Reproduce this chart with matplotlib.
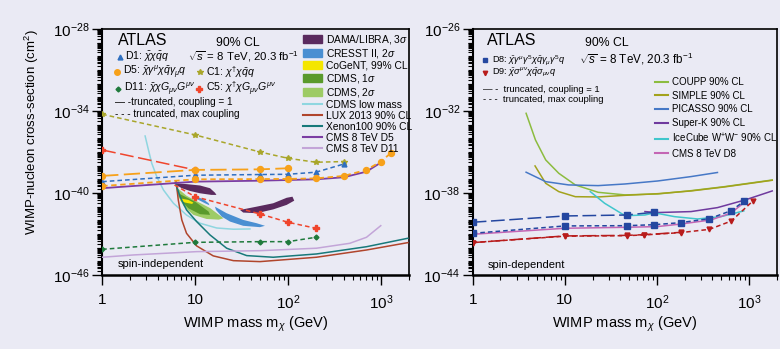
import numpy as np
import matplotlib
matplotlib.use("Agg")
import matplotlib.pyplot as plt
from matplotlib.lines import Line2D
from matplotlib.patches import Patch
from matplotlib.ticker import FixedLocator, LogLocator, NullFormatter

plt.rcParams['font.family'] = ['Liberation Sans', 'DejaVu Sans']
plt.rcParams['mathtext.fontset'] = 'custom'
plt.rcParams['mathtext.rm'] = 'Liberation Sans'
plt.rcParams['mathtext.it'] = 'Liberation Sans:italic'
plt.rcParams['mathtext.bf'] = 'Liberation Sans:bold'

BG = '#eaeaf4'

# ---------------- spin-independent (values are log10 of cm^2) ----------------
d1_m = [1, 10, 50, 100, 200, 400]
d1_s = [-39.17, -38.70, -38.65, -38.63, -38.48, -37.88]
c1_m = [1, 10, 50, 100, 200, 400]
c1_s = [-34.24, -35.75, -37.0, -37.46, -37.75, -37.7]
d5_m_cpl1 = [1, 10, 50, 100]
d5_s_cpl1 = [-38.75, -38.31, -38.27, -38.19]
d5_m = [1, 10, 50, 100, 200, 400, 700, 1000, 1300]
d5_s = [-39.49, -39.0, -38.98, -38.97, -38.93, -38.75, -38.31, -37.7, -37.05]
c5_m_cpl1 = [1, 10]
c5_s_cpl1 = [-36.85, -38.31]
c5_m = [6, 10, 50, 100, 200]
c5_s = [-39.41, -40.27, -41.53, -42.14, -42.58]
d11_m = [1, 10, 50, 100, 200]
d11_s = [-44.12, -43.61, -43.56, -43.56, -43.24]

cms_d5_m = [1, 10, 50, 200, 400, 700, 1000]
cms_d5_s = [-39.65, -39.17, -39.1, -39.0, -38.85, -38.44, -37.78]
cms_d11_m = [1, 2.2, 10.4, 50, 203, 464, 702, 1000]
cms_d11_s = [-44.7, -44.53, -44.29, -44.22, -44.04, -43.68, -43.24, -42.39]
xenon_m = [6.15, 6.9, 8.1, 10.4, 14.5, 21.9, 36, 69.5, 203, 702, 1960]
xenon_s = [-39.24, -40.27, -41.24, -42.09, -43.07, -44.04, -44.58, -44.7, -44.46, -43.93, -43.31]
lux_m = [6.25, 6.6, 7.2, 8.1, 10.4, 15.7, 25.9, 50, 203, 702, 1960]
lux_s = [-39.17, -40.51, -41.97, -42.95, -43.87, -44.6, -44.95, -45.02, -44.7, -44.17, -43.63]
cdmslow_m = [2.9, 3.15, 3.42, 3.87, 4.57, 5.85, 8.1, 11.3, 17.1, 25.9, 39]
cdmslow_s = [-35.83, -36.85, -37.83, -38.8, -39.78, -40.75, -41.61, -42.21, -42.56, -42.65, -42.63]

# signal regions (closed contours)
dama1_m = [6.3, 8.1, 11.3, 14.5, 16.4, 17.0, 15.0, 11.3, 8.8, 7.2, 6.4]
dama1_s = [-39.3, -39.35, -39.45, -39.65, -39.98, -40.14, -40.14, -40.02, -39.85, -39.65, -39.45]
dama2_m = [30.5, 46, 69.5, 97, 112, 117, 97, 69.5, 46, 33]
dama2_s = [-41.24, -41.0, -40.75, -40.35, -40.27, -40.56, -40.87, -41.2, -41.48, -41.43]
cresst1_m = [10, 12.3, 14, 14.3, 12.8, 10.5]
cresst1_s = [-40.22, -40.46, -40.75, -40.9, -40.75, -40.45]
cresst2_m = [16.4, 21.9, 33, 46, 56.6, 50, 33, 23.8, 19.4, 16.8]
cresst2_s = [-41.0, -41.48, -41.97, -42.21, -42.4, -42.5, -42.4, -42.09, -41.73, -41.24]
cdms2_m = [6.2, 8.1, 10.4, 14.5, 20.2, 18, 13.3, 9.6, 7.6, 6.6]
cdms2_s = [-39.54, -40.2, -40.6, -41.1, -41.85, -41.95, -41.9, -41.6, -41.0, -40.27]
cdms1_m = [6.6, 10.0, 14.0, 14.5, 11.3, 8.5, 7.2]
cdms1_s = [-40.02, -40.63, -41.36, -41.6, -41.55, -41.12, -40.63]
cogent_m = [6.9, 8.5, 9.6, 9.3, 7.8, 6.9]
cogent_s = [-40.39, -40.51, -40.7, -40.8, -40.7, -40.55]

# ---------------- spin-dependent ----------------
d8_m_cpl1 = [1, 10, 47, 93]
d8_s_cpl1 = [-40.14, -39.68, -39.61, -39.41]
d8_m = [1, 10, 47, 93, 180, 370, 640, 890]
d8_s = [-40.95, -40.41, -40.39, -40.32, -40.17, -39.88, -39.29, -38.58]
d9_m_cpl1 = [1, 10, 47, 72, 180]
d9_s_cpl1 = [-41.63, -41.14, -41.1, -41.05, -40.88]
d9_m = [1, 10, 47, 72, 180, 370, 640, 1100]
d9_s = [-41.63, -41.16, -41.12, -41.07, -40.9, -40.66, -40.05, -38.58]

coupp_m = [3.8, 4.8, 6.2, 8.6, 13, 23, 45, 102, 234, 535, 1780]
coupp_s = [-32.17, -34.12, -35.58, -36.56, -37.41, -37.95, -38.14, -38.07, -37.83, -37.54, -37.05]
simple_m = [4.75, 6.2, 8.6, 13, 23, 45, 102, 234, 535, 1780]
simple_s = [-36.02, -37.29, -37.9, -38.27, -38.29, -38.17, -38.05, -37.85, -37.56, -37.07]
picasso_m = [3.8, 6.2, 11, 23, 45, 102, 234, 453]
picasso_s = [-36.48, -37.17, -37.41, -37.46, -37.34, -37.12, -36.8, -36.5]
superk_m = [74, 102, 234, 453, 912, 1780]
superk_s = [-39.36, -39.43, -39.36, -39.07, -38.5, -37.85]
icecube_m = [18.9, 27, 45, 74, 94, 155, 276, 494, 875]
icecube_s = [-37.9, -38.75, -39.66, -39.61, -39.45, -39.73, -39.9, -39.73, -39.31]
cms_d8_m = [1, 10, 45, 100, 182, 385, 630, 912]
cms_d8_s = [-41.02, -40.58, -40.51, -40.46, -40.27, -39.97, -39.48, -38.63]


def p(vals):
    return 10.0 ** np.array(vals)


SHORT = (3, 2)
LONG = (9, 3)


def style_axis(ax, ymajor):
    ax.set_facecolor(BG)
    ax.set_xscale('log')
    ax.set_yscale('log')
    ax.set_xlim(1, 2000)
    ax.set_ylim(10.0 ** ymajor[-1], 10.0 ** ymajor[0])
    ax.yaxis.set_major_locator(FixedLocator([10.0 ** v for v in ymajor]))
    ax.yaxis.set_minor_locator(LogLocator(base=10, subs=np.arange(1, 10), numticks=60))
    ax.yaxis.set_minor_formatter(NullFormatter())
    ax.set_xticks([1, 10, 100, 1000],
                  labels=['1', '10', r'$\mathdefault{10^{2}}$', r'$\mathdefault{10^{3}}$'])
    ax.xaxis.set_minor_locator(LogLocator(base=10, subs=np.arange(2, 10), numticks=20))
    ax.xaxis.set_minor_formatter(NullFormatter())
    ax.tick_params(which='major', direction='out', length=7, width=1, labelsize=11)
    ax.tick_params(axis='x', which='major', pad=6)
    ax.tick_params(axis='y', which='major', pad=2)
    ax.tick_params(which='minor', direction='out', length=3.5, width=0.8)
    for s in ax.spines.values():
        s.set_linewidth(1.2)
    ax.spines['bottom'].set_linewidth(1.8)
    ax.spines['left'].set_linewidth(1.5)
    ax.set_xlabel(r'WIMP mass m$_{\chi}$ (GeV)', fontsize=10.5)
    ax.xaxis.set_label_coords(0.5, -0.16)


fig = plt.figure(figsize=(7.8, 3.49), dpi=100)
fig.patch.set_facecolor(BG)
ax1 = fig.add_axes([0.131, 0.212, 0.393, 0.705])
ax2 = fig.add_axes([0.606, 0.212, 0.39, 0.705])
style_axis(ax1, [-28, -34, -40, -46])
style_axis(ax2, [-26, -32, -38, -44])
ax1.set_ylabel('WIMP-nucleon cross-section (cm$^{2}$)', fontsize=9.5)
ax1.yaxis.set_label_coords(-0.2, 0.58)

# ---- left panel: filled regions ----
regions = [
    (cdms2_m, cdms2_s, '#9dcb65'),
    (cdms1_m, cdms1_s, '#5a9a2c'),
    (cogent_m, cogent_s, '#f4e600'),
    (cresst1_m, cresst1_s, '#4a8fd2'),
    (cresst2_m, cresst2_s, '#4a8fd2'),
    (dama1_m, dama1_s, '#5a2a5e'),
    (dama2_m, dama2_s, '#5a2a5e'),
]
for m, s, c in regions:
    ax1.fill(m, p(s), color=c, lw=0, zorder=2)

ax1.plot(cdmslow_m, p(cdmslow_s), color='#8fd6e0', lw=1.1, zorder=3)
ax1.plot(lux_m, p(lux_s), color='#b0452c', lw=1.1, zorder=3)
ax1.plot(xenon_m, p(xenon_s), color='#17797a', lw=1.1, zorder=3)
ax1.plot(cms_d5_m, p(cms_d5_s), color='#7b3da3', lw=1.3, zorder=3)
ax1.plot(cms_d11_m, p(cms_d11_s), color='#c3a5d8', lw=1.1, zorder=3)

BLUE1, ORANGE, OLIVE, GREEN, RED = '#2f6fc0', '#f7a11a', '#a9a62a', '#1f7a3c', '#f0452c'
ax1.plot(c1_m, p(c1_s), color=OLIVE, lw=1.1, dashes=SHORT, marker='*', ms=4, zorder=4)
ax1.plot(d1_m, p(d1_s), color=BLUE1, lw=1.1, dashes=SHORT, marker='^', ms=3.5, zorder=4)
ax1.plot(c5_m_cpl1, p(c5_s_cpl1), color=RED, lw=1.1, dashes=LONG, marker='P', ms=4, zorder=4)
ax1.plot(c5_m, p(c5_s), color=RED, lw=1.1, dashes=SHORT, marker='P', ms=4,
         markevery=[1, 2, 3, 4], zorder=4)
ax1.plot(d5_m_cpl1, p(d5_s_cpl1), color=ORANGE, lw=1.3, dashes=LONG, marker='o', ms=4.3, zorder=5)
ax1.plot(d5_m, p(d5_s), color=ORANGE, lw=1.3, dashes=SHORT, marker='o', ms=4.3, zorder=5)
ax1.plot(d11_m, p(d11_s), color=GREEN, lw=1.1, dashes=SHORT, marker='D', ms=2.5, zorder=4)

# left legend (exclusions)
h1 = [Patch(color='#5a2a5e'), Patch(color='#4a8fd2'), Patch(color='#f4e600'),
      Patch(color='#5a9a2c'), Patch(color='#9dcb65'),
      Line2D([], [], color='#8fd6e0'), Line2D([], [], color='#b0452c'),
      Line2D([], [], color='#17797a'), Line2D([], [], color='#7b3da3'),
      Line2D([], [], color='#c3a5d8')]
l1 = ['DAMA/LIBRA, 3$\\sigma$', 'CRESST II, 2$\\sigma$', 'CoGeNT, 99% CL',
      'CDMS, 1$\\sigma$', 'CDMS, 2$\\sigma$', 'CDMS low mass', 'LUX 2013 90% CL',
      'Xenon100 90% CL', 'CMS 8 TeV D5', 'CMS 8 TeV D11']
ax1.legend(h1, l1, loc='upper left', bbox_to_anchor=(0.655, 0.985), frameon=False,
           fontsize=7.4, handlelength=1.9, handleheight=0.8, labelspacing=0.1,
           handletextpad=0.3, borderpad=0, borderaxespad=0)

# left header
T = ax1.transAxes
ax1.text(0.05, 0.955, 'ATLAS', transform=T, fontsize=11.5, va='center')
ax1.text(0.443, 0.943, '90% CL', transform=T, fontsize=8.8, ha='center', va='center')
ax1.text(0.28, 0.886, r'$\sqrt{s}$ = 8 TeV, 20.3 fb$^{-1}$', transform=T, fontsize=8.2,
         va='center')
sym = [
    (0.059, 0.885, '^', BLUE1, 3.5, 0.074, r'D1: $\bar{\chi}\chi\bar{q}q$'),
    (0.048, 0.826, 'o', ORANGE, 4.0, 0.067, r'D5: $\bar{\chi}\gamma^{\mu}\chi\bar{q}\gamma_{\mu}q$'),
    (0.319, 0.826, '*', OLIVE, 4.0, 0.339, r'C1: $\chi^{\dagger}\chi\bar{q}q$'),
    (0.053, 0.756, 'D', GREEN, 2.5, 0.072, r'D11: $\bar{\chi}\chi G_{\mu\nu}G^{\mu\nu}$'),
    (0.317, 0.756, 'P', RED, 4.0, 0.339, r'C5: $\chi^{\dagger}\chi G_{\mu\nu}G^{\mu\nu}$'),
]
for xm, ym, mk, c, ms, xt, lab in sym:
    ax1.plot([xm], [ym], marker=mk, color=c, ms=ms, transform=T, ls='none')
    ax1.text(xt, ym, lab, transform=T, fontsize=7.6, va='center')
ax1.text(0.042, 0.704, '— -truncated, coupling = 1', transform=T, fontsize=7.2, va='center')
ax1.text(0.042, 0.656, '- - - truncated, max coupling', transform=T, fontsize=7.2, va='center')
ax1.text(0.052, 0.045, 'spin-independent', transform=T, fontsize=8, va='center')

# ---- right panel ----
ax2.plot(coupp_m, p(coupp_s), color='#8cbc3f', lw=1.1, zorder=3)
ax2.plot(simple_m, p(simple_s), color='#a3a21c', lw=1.1, zorder=3)
ax2.plot(picasso_m, p(picasso_s), color='#4678c6', lw=1.1, zorder=3)
ax2.plot(superk_m, p(superk_s), color='#6f3a9e', lw=1.1, zorder=3)
ax2.plot(icecube_m, p(icecube_s), color='#40c6cc', lw=1.1, zorder=3)
ax2.plot(cms_d8_m, p(cms_d8_s), color='#c466b4', lw=1.1, zorder=3)

BLUE2, DRED = '#2447a0', '#b81c1c'
ax2.plot(d8_m_cpl1, p(d8_s_cpl1), color=BLUE2, lw=1.1, dashes=LONG, marker='s', ms=4, zorder=4)
ax2.plot(d8_m, p(d8_s), color=BLUE2, lw=1.1, dashes=SHORT, marker='s', ms=4, zorder=4)
ax2.plot(d9_m_cpl1, p(d9_s_cpl1), color=DRED, lw=1.1, dashes=LONG, marker='v', ms=3.5, zorder=4)
ax2.plot(d9_m, p(d9_s), color=DRED, lw=1.1, dashes=SHORT, marker='v', ms=3.5, zorder=4)

h2 = [Line2D([], [], color=c) for c in
      ['#8cbc3f', '#a3a21c', '#4678c6', '#6f3a9e', '#40c6cc', '#c466b4']]
l2 = ['COUPP 90% CL', 'SIMPLE 90% CL', 'PICASSO 90% CL', 'Super-K 90% CL',
      r'IceCube W$^{+}$W$^{-}$ 90% CL', 'CMS 8 TeV D8']
ax2.legend(h2, l2, loc='upper left', bbox_to_anchor=(0.6, 0.805), frameon=False,
           fontsize=7.0, handlelength=1.3, labelspacing=0.38,
           handletextpad=0.4, borderpad=0, borderaxespad=0)

T2 = ax2.transAxes
ax2.text(0.046, 0.955, 'ATLAS', transform=T2, fontsize=11.5, va='center')
ax2.text(0.44, 0.942, '90% CL', transform=T2, fontsize=8.8, ha='center', va='center')
ax2.text(0.35, 0.878, r'$\sqrt{s}$ = 8 TeV, 20.3 fb$^{-1}$', transform=T2, fontsize=8.4,
         va='center')
ax2.plot([0.039], [0.874], marker='s', color=BLUE2, ms=3.2, transform=T2, ls='none')
ax2.text(0.065, 0.874, r'D8: $\bar{\chi}\gamma^{\mu}\gamma^{5}\chi\bar{q}\gamma_{\mu}\gamma^{5}q$',
         transform=T2, fontsize=6.6, va='center')
ax2.plot([0.039], [0.823], marker='v', color=DRED, ms=3.2, transform=T2, ls='none')
ax2.text(0.065, 0.823, r'D9: $\bar{\chi}\sigma^{\mu\nu}\chi\bar{q}\sigma_{\mu\nu}q$',
         transform=T2, fontsize=6.6, va='center')
ax2.text(0.033, 0.755, '— -  truncated, coupling = 1', transform=T2, fontsize=6.8, va='center')
ax2.text(0.033, 0.715, '- - -  truncated, max coupling', transform=T2, fontsize=6.8, va='center')
ax2.text(0.05, 0.04, 'spin-dependent', transform=T2, fontsize=8, va='center')

fig.savefig('out.png', dpi=100, facecolor=BG)
